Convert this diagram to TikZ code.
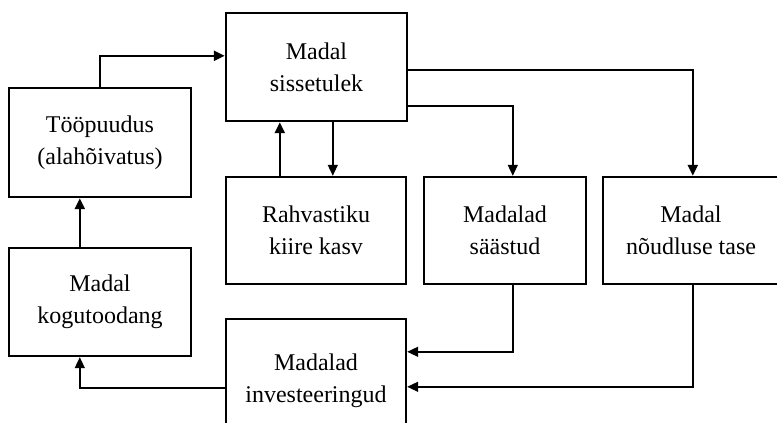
\documentclass[tikz,border=0pt]{standalone}
\usepackage{fontspec}
\setmainfont{Liberation Serif}
\usetikzlibrary{arrows.meta,calc}
\begin{document}
\begin{tikzpicture}[x=1pt,y=-1pt,
  box/.style={draw,line width=2.4pt,rectangle,align=center,inner sep=0pt,
    font=\fontsize{24}{32}\selectfont},
  thin/.style={line width=1.4pt,-{Triangle[length=11pt,width=10pt]}},
  thick/.style={line width=2.4pt,-{Triangle[length=11pt,width=10pt]}}]
\useasboundingbox (0,0) rectangle (777,423);
\clip (0,0) rectangle (777,423);
\node[box,minimum width=182pt,minimum height=109pt] (too) at (100,142.5) {Tööpuudus\\(alahõivatus)};
\node[box,minimum width=181pt,minimum height=108pt] (sis) at (316.5,67) {Madal\\sissetulek};
\node[box,minimum width=180pt,minimum height=107pt] (rah) at (316,230.5) {Rahvastiku\\kiire kasv};
\node[box,minimum width=162pt,minimum height=107pt] (saa) at (505,230.5) {Madalad\\säästud};
\node[box,minimum width=176pt,minimum height=107pt] (nou) at (691,230.5) {Madal\\nõudluse tase};
\node[box,minimum width=182pt,minimum height=108pt] (kog) at (100,302) {Madal\\kogutoodang};
\node[box,minimum width=180pt,minimum height=124pt] (inv) at (316,381) {Madalad\\investeeringud};
% connectors
\draw[thick] (too.north) |- ($(sis.north west)+(0,44)$);
\draw[thick] ($(rah.north west)+(55,0)$) -- ($(sis.south west)+(55,0)$);
\draw[thin] ($(sis.south west)+(108,0)$) -- ($(rah.north west)+(108,0)$);
\draw[thin] ($(sis.north east)+(0,94)$) -| ($(saa.north west)+(90,0)$);
\draw[thick] ($(sis.north east)+(0,58)$) -| ($(nou.north west)+(91,0)$);
\draw[thin] ($(saa.south west)+(90,0)$) |- ($(inv.north east)+(0,34)$);
\draw[thin] ($(nou.south west)+(91,0)$) |- ($(inv.north east)+(0,69)$);
\draw[thin] ($(inv.north west)+(0,70)$) -| ($(kog.south west)+(72,0)$);
\draw[thick] ($(kog.north west)+(72,0)$) -- ($(too.south west)+(72,0)$);
\end{tikzpicture}
\end{document}
